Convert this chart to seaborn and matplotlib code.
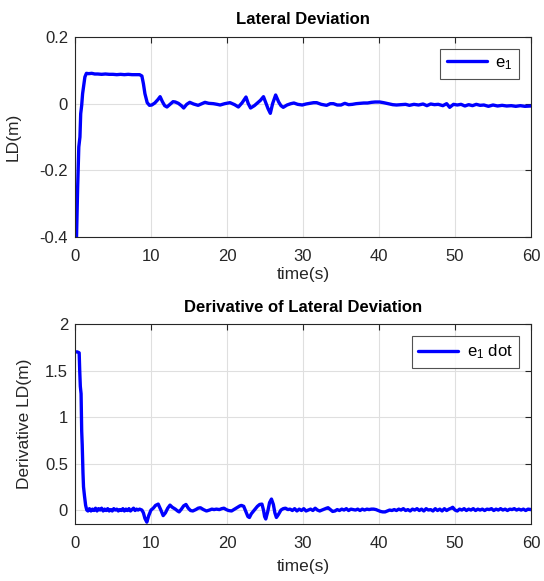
import numpy as np
import pandas as pd
import matplotlib
matplotlib.use("Agg")
import matplotlib.pyplot as plt
import seaborn as sns

# ---- data ----
t_ld = [0, 0.2, 0.35, 0.5, 0.65, 0.75, 0.88, 1.0, 1.15, 1.3, 1.5, 1.8, 2.2, 2.6, 3.0, 3.5,
        4.0, 4.5, 5.0, 5.5, 6.0, 6.5, 7.0, 7.5, 8.0, 8.5, 8.8, 9.0, 9.2, 9.5, 9.8, 10.1,
        10.5, 10.9, 11.2, 11.5, 11.8, 12.1, 12.5, 12.9, 13.2, 13.6, 14.0, 14.3, 14.7, 15.1,
        15.6, 16.2, 16.7, 17.1, 17.6, 18.2, 18.7, 19.1, 19.7, 20.4, 21.0, 21.5, 22.0, 22.5,
        22.8, 23.1, 23.6, 24.0, 24.4, 24.8, 25.1, 25.4, 25.7, 26.0, 26.4, 26.8, 27.1, 27.4,
        27.9, 28.4, 28.8, 29.3, 29.9, 30.4, 30.9, 31.4, 31.8, 32.4, 33.1, 33.6, 34.0, 34.5,
        35.0, 35.5, 36.0, 36.5, 37.0, 37.5, 38.0, 38.5, 39.0, 39.5, 40.1, 40.6, 41.2, 41.8,
        42.3, 42.9, 43.5, 44.0, 44.6, 45.2, 45.8, 46.3, 46.8, 47.3, 47.8, 48.4, 48.9, 49.3,
        49.8, 50.3, 50.8, 51.3, 51.8, 52.3, 52.8, 53.3, 53.8, 54.4, 55.0, 55.6, 56.2, 56.8,
        57.4, 58.0, 58.6, 59.2, 60.0]
e1 = [-0.40, -0.40, -0.25, -0.13, -0.10, -0.03, -0.005, 0.03, 0.055, 0.08, 0.091, 0.090,
      0.091, 0.089, 0.089, 0.088, 0.089, 0.088, 0.088, 0.087, 0.088, 0.087, 0.088, 0.087,
      0.087, 0.087, 0.083, 0.06, 0.03, 0.003, -0.005, -0.004, 0.002, 0.012, 0.021, 0.006,
      -0.006, -0.01, -0.002, 0.006, 0.005, 0.001, -0.006, -0.013, -0.002, 0.004, -0.001,
      -0.005, 0.0, 0.004, 0.001, 0.0, -0.002, -0.004, 0.0, 0.003, -0.003, -0.01, 0.003,
      0.02, 0.0, -0.013, -0.006, 0.002, 0.010, 0.021, 0.003, -0.015, -0.029, 0.0, 0.026,
      0.005, -0.006, -0.011, -0.004, 0.0, 0.002, -0.002, -0.004, -0.001, 0.001, 0.003,
      0.003, -0.002, -0.005, 0.0, 0.0, -0.004, -0.004, 0.001, -0.003, -0.002, 0.0, 0.001,
      0.002, 0.002, 0.004, 0.005, 0.005, 0.003, 0.0, -0.003, -0.004, -0.003, -0.002,
      -0.005, -0.002, -0.004, -0.001, -0.006, -0.001, -0.003, -0.002, -0.006, 0.0, -0.011,
      -0.002, -0.004, -0.002, -0.007, -0.003, -0.006, -0.002, -0.005, -0.004, -0.008,
      -0.004, -0.007, -0.005, -0.007, -0.006, -0.008, -0.006, -0.008, -0.007]

t_dot = [0, 0.3, 0.55, 0.62, 0.7, 0.8, 0.88, 0.95, 1.05, 1.12, 1.25, 1.4, 1.55, 1.7,
         1.9, 2.1, 2.3, 2.5, 2.7, 2.9, 3.1, 3.3, 3.5, 3.7, 3.9, 4.1, 4.3, 4.5, 4.7, 4.9,
         5.1, 5.3, 5.5, 5.7, 5.9, 6.1, 6.3, 6.5, 6.7, 6.9, 7.1, 7.3, 7.5, 7.7, 7.9, 8.1,
         8.3, 8.5, 8.8, 9.0, 9.2, 9.45, 9.7, 10.0, 10.3, 10.6, 10.95, 11.3, 11.6, 11.9,
         12.2, 12.5, 12.8, 13.2, 13.5, 13.7, 14.0, 14.3, 14.6, 14.9, 15.2, 15.5, 15.9,
         16.2, 16.5, 16.9, 17.3, 17.7, 18.0, 18.3, 18.6, 19.0, 19.3, 19.6, 19.9, 20.2,
         20.6, 21.0, 21.4, 21.7, 21.9, 22.2, 22.5, 22.75, 22.95, 23.2, 23.6, 24.0, 24.3,
         24.6, 24.8, 24.95, 25.1, 25.35, 25.6, 25.85, 26.1, 26.3, 26.5, 26.75, 27.1, 27.4,
         27.7, 28.0, 28.3, 28.6, 28.9, 29.2, 29.5, 29.8, 30.1, 30.4, 30.7, 31.0, 31.3,
         31.6, 31.9, 32.2, 32.5, 32.8, 33.1, 33.3, 33.6, 33.9, 34.2, 34.5, 34.8, 35.1,
         35.4, 35.7, 36.0, 36.3, 36.6, 36.9, 37.2, 37.5, 37.8, 38.1, 38.4, 38.7, 39.0,
         39.3, 39.6, 39.9, 40.2, 40.5, 40.8, 41.1, 41.4, 41.7, 42.0, 42.3, 42.6, 42.9,
         43.2, 43.5, 43.8, 44.1, 44.4, 44.7, 45.0, 45.3, 45.6, 45.9, 46.2, 46.5, 46.8,
         47.1, 47.4, 47.7, 48.0, 48.3, 48.6, 48.9, 49.2, 49.5, 49.7, 50.0, 50.3, 50.6,
         50.9, 51.2, 51.5, 51.8, 52.1, 52.4, 52.7, 53.0, 53.3, 53.6, 53.9, 54.2, 54.5,
         54.8, 55.1, 55.4, 55.7, 56.0, 56.3, 56.6, 56.9, 57.2, 57.5, 57.8, 58.1, 58.4,
         58.7, 59.0, 59.3, 59.6, 60.0]
e1_dot = [1.70, 1.70, 1.69, 1.5, 1.33, 1.25, 0.85, 0.70, 0.40, 0.25, 0.15, 0.05, 0.0, -0.01,
          0.015, -0.01, 0.01, -0.005, 0.02, -0.01, 0.015, 0.0, 0.02, -0.01, 0.01, -0.005,
          0.015, -0.01, 0.005, -0.01, 0.015, 0.0, 0.01, -0.01, 0.005, -0.005, 0.015, -0.01,
          0.01, -0.005, 0.015, -0.01, 0.005, 0.02, -0.005, 0.01, 0.0, 0.01, 0.0, -0.03,
          -0.09, -0.13, -0.06, 0.0, 0.02, 0.05, 0.064, 0.0, -0.06, -0.03, 0.02, 0.053, 0.03,
          0.01, -0.01, -0.02, 0.01, 0.045, 0.06, 0.02, -0.005, -0.01, 0.005, 0.02, 0.025,
          0.005, -0.01, 0.0, 0.01, 0.005, 0.01, 0.005, 0.015, 0.02, 0.005, -0.005, -0.01,
          0.01, 0.03, 0.045, 0.05, 0.04, -0.02, -0.07, -0.08, -0.04, 0.0, 0.04, 0.06, 0.064,
          0.0, -0.07, -0.096, -0.02, 0.08, 0.118, 0.06, -0.03, -0.08, -0.05, 0.0, 0.015,
          0.02, 0.005, 0.01, -0.005, 0.015, -0.01, 0.01, -0.005, 0.015, -0.01, 0.0, 0.01,
          -0.005, 0.02, 0.0, -0.01, 0.0, 0.01, 0.02, 0.025, 0.005, -0.015, -0.01, 0.005,
          -0.005, 0.01, 0.0, 0.015, -0.005, 0.01, 0.005, 0.0, 0.01, -0.005, 0.01, 0.0, 0.01,
          0.005, 0.01, 0.01, 0.005, -0.005, -0.015, -0.02, -0.02, -0.01, 0.0, -0.005, 0.005,
          -0.005, 0.01, 0.0, 0.015, -0.005, 0.005, -0.01, 0.01, 0.0, 0.015, -0.005, 0.01,
          -0.01, 0.015, 0.0, 0.005, -0.01, 0.015, -0.005, 0.01, -0.01, 0.015, -0.005, 0.01,
          0.02, 0.03, 0.0, -0.01, 0.01, 0.0, 0.015, -0.005, 0.01, 0.0, 0.015, -0.005, 0.01,
          0.0, 0.01, -0.005, 0.01, 0.005, 0.015, -0.005, 0.01, 0.0, 0.015, 0.0, 0.01, -0.005,
          0.01, 0.005, 0.015, 0.0, 0.01, 0.0, 0.01, -0.005, 0.01, 0.005]

x_ticks = [0, 10, 20, 30, 40, 50, 60]
y1_ticks = [-0.4, -0.2, 0, 0.2]
y1_labels = ["-0.4", "-0.2", "0", "0.2"]
y2_ticks = [0, 0.5, 1, 1.5, 2]
y2_labels = ["0", "0.5", "1", "1.5", "2"]

df1 = pd.DataFrame({"t": t_ld, "v": e1})
df2 = pd.DataFrame({"t": t_dot, "v": e1_dot})

sns.set_style("white")
plt.rcParams["font.family"] = ["Liberation Sans", "DejaVu Sans"]
plt.rcParams["mathtext.fontset"] = "custom"
plt.rcParams["mathtext.rm"] = "Liberation Sans"
plt.rcParams["mathtext.it"] = "Liberation Sans"

TXT = "#262626"
fig = plt.figure(figsize=(5.44, 5.81), dpi=100)
ax1 = fig.add_axes([75 / 544, 1 - 237 / 581, 456 / 544, 200 / 581])
ax2 = fig.add_axes([75 / 544, 1 - 524 / 581, 456 / 544, 200 / 581])

sns.lineplot(data=df1, x="t", y="v", ax=ax1, color="#0000ff", lw=2.4,
             label="e$_1$", sort=False, estimator=None)
sns.lineplot(data=df2, x="t", y="v", ax=ax2, color="#0000ff", lw=2.4,
             label="e$_1$ dot", sort=False, estimator=None)

def style(ax, yt, yl, ylim, title, ylabel, ylab_x, xlab_pad):
    ax.set_xlim(0, 60)
    ax.set_ylim(*ylim)
    ax.set_xticks(x_ticks)
    ax.set_xticklabels([str(v) for v in x_ticks])
    ax.set_yticks(yt)
    ax.set_yticklabels(yl)
    ax.grid(True, color="#dfdfdf", lw=0.8)
    ax.set_axisbelow(True)
    for s in ax.spines.values():
        s.set_color(TXT)
        s.set_linewidth(0.8)
    ax.tick_params(direction="in", length=4, width=0.8, color=TXT, labelcolor=TXT,
                   labelsize=12, top=True, right=True, pad=5)
    ax.tick_params(axis="x", pad=8.5)
    ax.set_xlabel("time(s)", fontsize=12.5, color=TXT, labelpad=xlab_pad)
    ax.set_ylabel(ylabel, fontsize=12.5, color=TXT)
    ax.yaxis.set_label_coords(ylab_x, 0.5)
    ax.set_title(title, fontsize=12, fontweight="bold", color="black", pad=9)
    leg = ax.legend(loc="upper right", fontsize=12, frameon=True, fancybox=False,
                    handlelength=2.4, borderpad=0.4, handletextpad=0.5,
                    borderaxespad=0.7)
    leg.get_frame().set_edgecolor(TXT)
    leg.get_frame().set_linewidth(0.8)
    for txt in leg.get_texts():
        txt.set_color("black")

style(ax1, y1_ticks, y1_labels, (-0.4, 0.2), "Lateral Deviation", "LD(m)", -0.12, 2)
style(ax2, y2_ticks, y2_labels, (-0.15, 2), "Derivative of Lateral Deviation",
      "Derivative LD(m)", -0.094, 6)

fig.savefig("out.png", dpi=100)
